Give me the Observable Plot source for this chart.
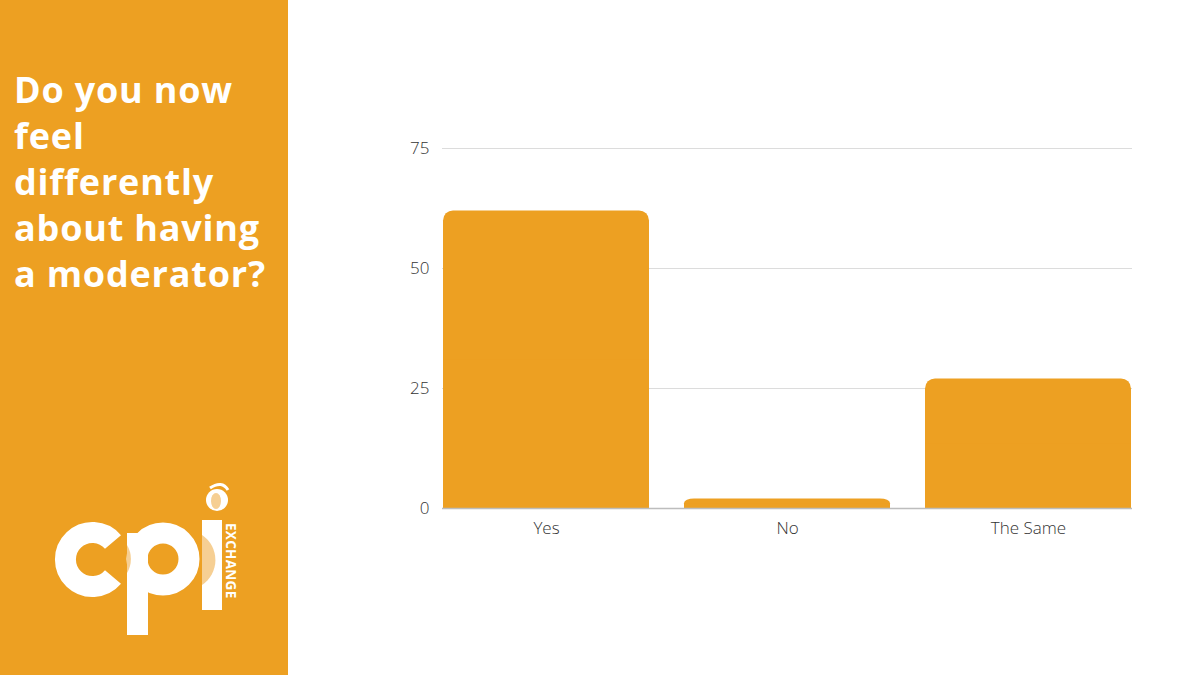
<!DOCTYPE html>
<html>
<head>
<meta charset="utf-8">
<script src="https://cdn.jsdelivr.net/npm/d3@7"></script>
<script src="https://cdn.jsdelivr.net/npm/@observablehq/plot@0.6"></script>
<style>
  html, body { margin: 0; padding: 0; background: #fff; }
  #page { position: relative; width: 1200px; height: 675px; overflow: hidden; font-family: "Open Sans", sans-serif; }
  #panel { position: absolute; left: 0; top: 0; width: 288px; height: 675px; background: #EDA022; }
  #title { position: absolute; left: 14px; top: 67px; margin: 0; color: #fff; font-size: 36px; font-weight: 700; line-height: 46px; letter-spacing: 0.8px; }
  #logo { position: absolute; left: 0; top: 0; }
  #chart { position: absolute; left: 288px; top: 0; }
</style>
</head>
<body>
<div id="page">
  <div id="panel">
    <h1 id="title">Do you now<br>feel<br>differently<br>about having<br>a moderator?</h1>
    <svg id="logo" width="288" height="675">
      <!-- c -->
      <path d="M 113 542 A 27 27 0 1 0 113 577" fill="none" stroke="#fff" stroke-width="21"/>
      <!-- p -->
      <circle cx="163" cy="559" r="26" fill="none" stroke="#fff" stroke-width="21"/>
      <rect x="127" y="533" width="21" height="102" fill="#fff"/>
      <path d="M 127 545 A 27 27 0 0 1 127 573 Z" fill="#F6CF93"/>
      <!-- i -->
      <rect x="202" y="520" width="20" height="90" fill="#fff"/>
      <path d="M 202 535 A 30 30 0 0 1 202 585 Z" fill="#F6CF93"/>
      <circle cx="217" cy="500" r="11" fill="#fff"/>
      <ellipse cx="216" cy="501" rx="5" ry="8" fill="#F6CF93"/>
      <path d="M 210 488 Q 222 480 228 490" fill="none" stroke="#fff" stroke-width="3"/>
      <text transform="translate(226,523) rotate(90)" fill="#fff" font-family="Open Sans" font-weight="700" font-size="13.5" letter-spacing="0.3">EXCHANGE</text>
    </svg>
  </div>
  <div id="chart"></div>
</div>
<script>
const categories = ["Yes", "No", "The Same"];
const values = [62, 2, 27];
const yTicks = [0, 25, 50, 75];

const data = categories.map((c, i) => ({category: c, value: values[i]}));
const barColor = "#EDA022";

const chart = Plot.plot({
  width: 912,
  height: 675,
  marginLeft: 154,
  marginRight: 68,
  marginTop: 148,
  marginBottom: 167,
  style: {fontFamily: "Open Sans", fontSize: "17px", fontWeight: 300, color: "#333", background: "transparent"},
  x: {domain: categories, paddingInner: 0.145, paddingOuter: 0, label: null, tickSize: 0, tickPadding: 13},
  y: {domain: [0, 75], ticks: yTicks, label: null, tickSize: 0, tickPadding: 13},
  marks: [
    Plot.ruleY(yTicks.filter(t => t > 0), {stroke: "#dcdcdc", strokeWidth: 1}),
    Plot.barY(data, {x: "category", y: "value", fill: barColor, rx: 10}),
    Plot.barY(data, {x: "category", y1: 0, y2: d => d.value / 2, fill: barColor}),
    Plot.ruleY([0], {stroke: "#bdbdbd", strokeWidth: 1.5})
  ]
});
document.getElementById("chart").appendChild(chart);
</script>
</body>
</html>
